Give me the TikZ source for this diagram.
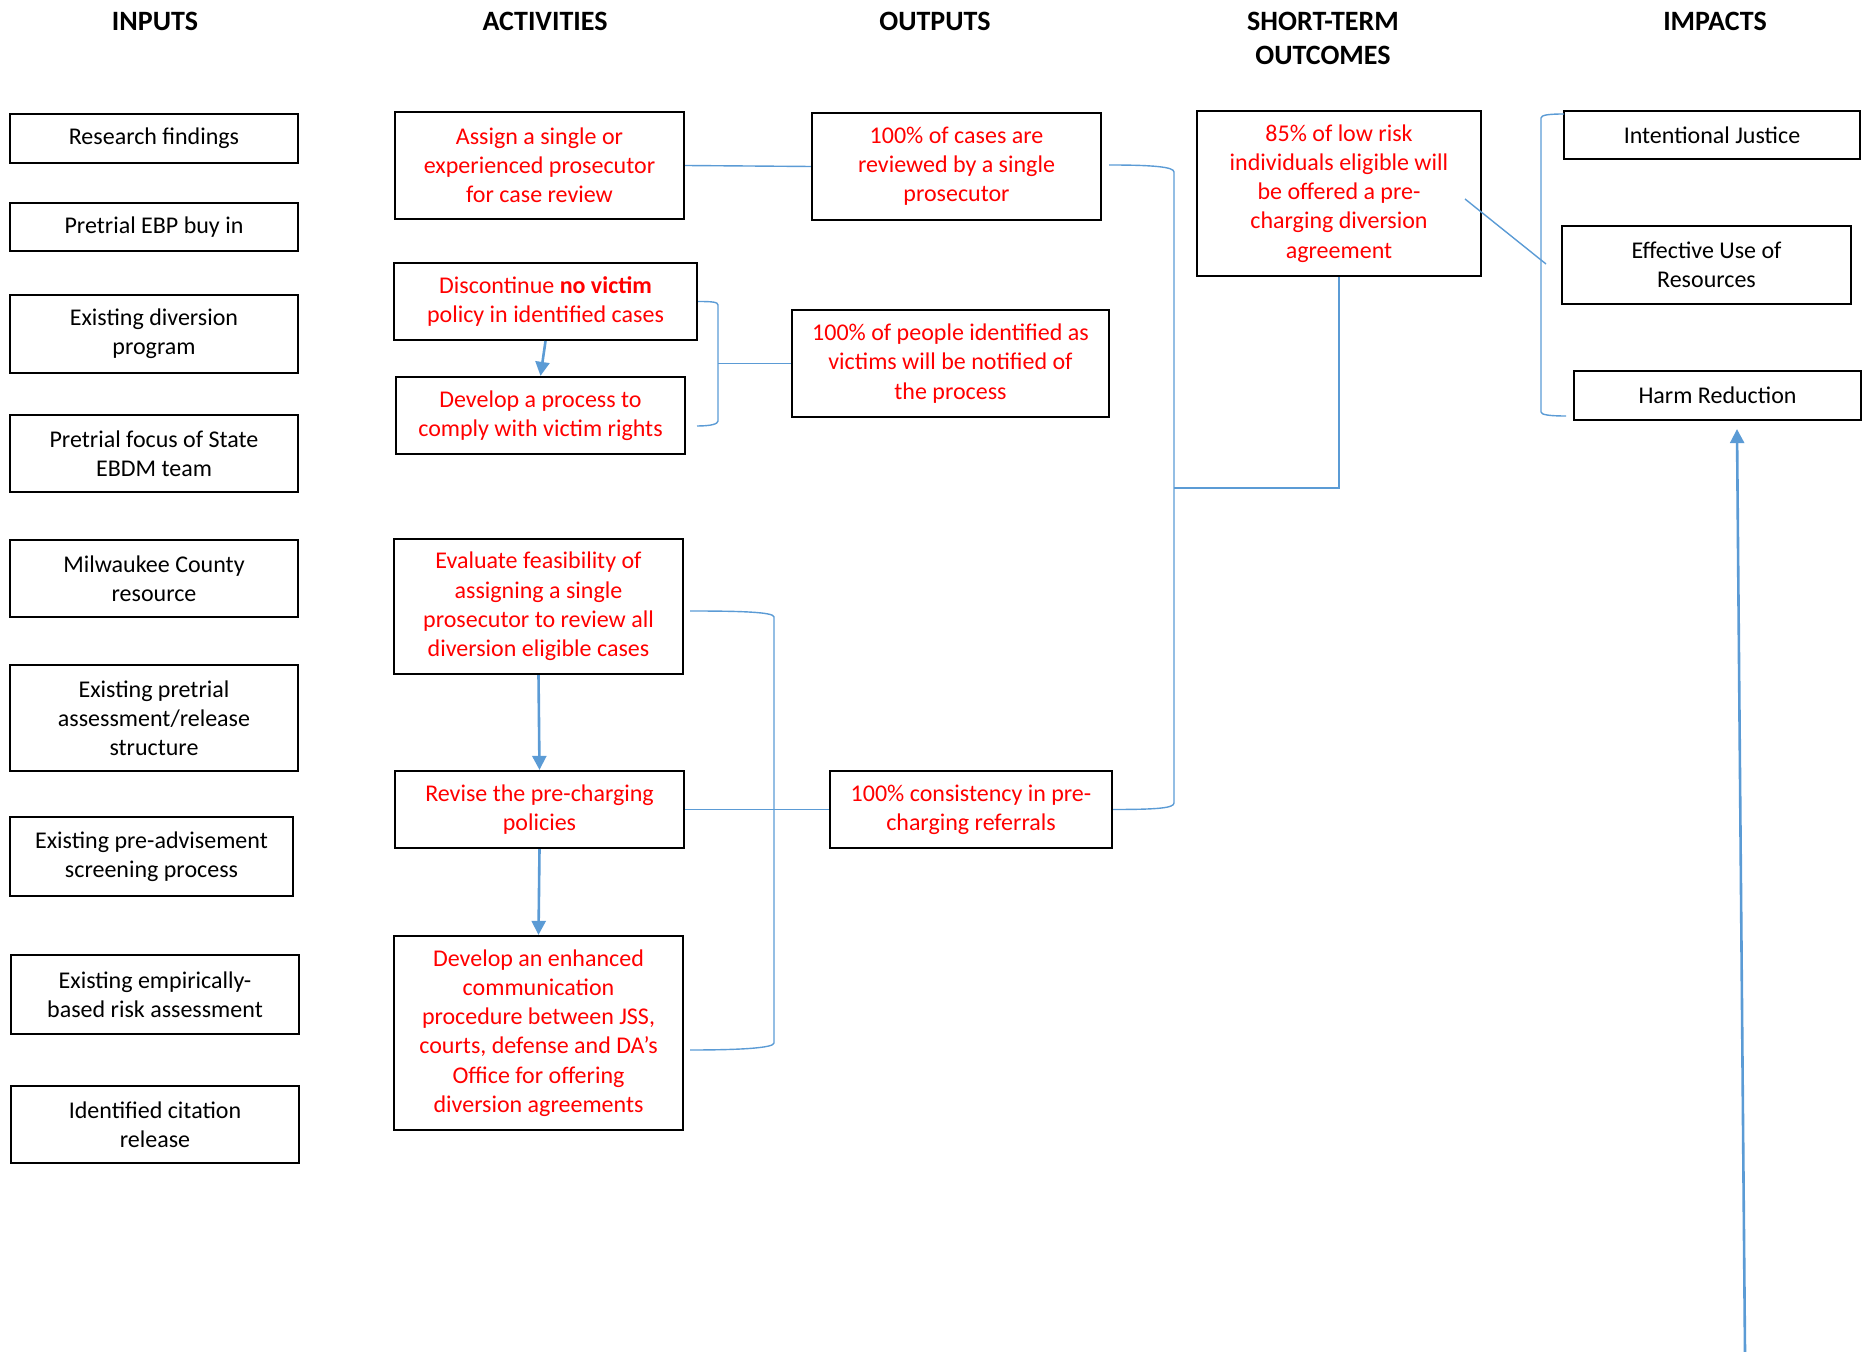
\documentclass[tikz,border=0pt]{standalone}
\usepackage{fontspec}
\setmainfont{Carlito}
\usetikzlibrary{arrows.meta}

\definecolor{linkblue}{HTML}{5B9BD5}
\definecolor{boxred}{HTML}{FF0000}

\tikzset{
  box/.style={
    draw,line width=1.1pt,align=center,inner sep=0pt,
    font=\fontsize{12}{14.6}\selectfont,
  },
  inbox/.style={box,text=black},
  redbox/.style={box,text=boxred},
  sz/.style 2 args={minimum width=#1,minimum height=#2},
  head/.style={align=center,font=\fontsize{14}{17}\selectfont\bfseries},
  link/.style={draw=linkblue,line width=0.7pt},
  flow/.style={draw=linkblue,line width=1.3pt,-{Triangle[length=7pt,width=7pt]}},
}

\begin{document}
\begin{tikzpicture}[x=0.5pt,y=-0.5pt]
    \useasboundingbox (0,0) rectangle (1865,1352);

    % column headings
    \node[head] (h1) at (155,21)    {INPUTS};
    \node[head] (h2) at (545,21)    {ACTIVITIES};
    \node[head] (h3) at (935,21)    {OUTPUTS};
    \node[head] (h4) at (1323,38.7) {SHORT-TERM\\OUTCOMES};
    \node[head] (h5) at (1715,21)   {IMPACTS};

    % inputs
    \node[inbox,sz={144pt}{24.5pt}] (in1) at (154,138.5)  {Research findings};
    \node[inbox,sz={144pt}{24pt}]   (in2) at (154,227)    {Pretrial EBP buy in};
    \node[inbox,sz={144pt}{39pt}]   (in3) at (154,334)    {Existing diversion\\program};
    \node[inbox,sz={144pt}{38.5pt}] (in4) at (154,453.5)  {Pretrial focus of State\\EBDM team};
    \node[inbox,sz={144pt}{38.5pt}] (in5) at (154,578.5)  {Milwaukee County\\resource};
    \node[inbox,sz={144pt}{53pt}]   (in6) at (154,718)    {Existing pretrial\\assessment/release\\structure};
    \node[inbox,sz={141.5pt}{39.5pt}] (in7) at (151.5,856.5) {Existing pre-advisement\\screening process};
    \node[inbox,sz={144pt}{39.5pt}] (in8) at (155,994.5)  {Existing empirically-\\based risk assessment};
    \node[inbox,sz={144pt}{38.5pt}] (in9) at (155,1124.5) {Identified citation\\release};

    % activities
    \node[redbox,sz={144.5pt}{53.5pt}] (act1) at (539.5,165.5) {Assign a single or\\experienced prosecutor\\for case review};
    \node[redbox,sz={151.5pt}{38.5pt}] (act2) at (545.5,301.5) {Discontinue \textbf{no victim}\\policy in identified cases};
    \node[redbox,sz={144.5pt}{38.5pt}] (act3) at (540.5,415.5) {Develop a process to\\comply with victim rights};
    \node[redbox,sz={144.5pt}{67.5pt}] (act4) at (538.5,606.5) {Evaluate feasibility of\\assigning a single\\prosecutor to review all\\diversion eligible cases};
    \node[redbox,sz={144.5pt}{38.5pt}] (act5) at (539.5,809.5) {Revise the pre-charging\\policies};
    \node[redbox,sz={144.5pt}{97pt}]   (act6) at (538.5,1033)  {Develop an enhanced\\communication\\procedure between JSS,\\courts, defense and DA’s\\Office for offering\\diversion agreements};

    % outputs
    \node[redbox,sz={144.5pt}{53.5pt}] (out1) at (956.5,166.5) {100\% of cases are\\reviewed by a single\\prosecutor};
    \node[redbox,sz={158.5pt}{53.5pt}] (out2) at (950.5,363.5) {100\% of people identified as\\victims will be notified of\\the process};
    \node[redbox,sz={141pt}{38.5pt}]   (out3) at (971,809.5)   {100\% consistency in pre-\\charging referrals};

    % short-term outcome
    \node[redbox,sz={142pt}{82.5pt}] (st1) at (1339,193.5) {85\% of low risk\\individuals eligible will\\be offered a pre-\\charging diversion\\agreement};

    % impacts
    \node[inbox,sz={148pt}{24pt}]     (imp1) at (1712,135)    {Intentional Justice};
    \node[inbox,sz={144.5pt}{39pt}]   (imp2) at (1706.5,265)  {Effective Use of\\Resources};
    \node[inbox,sz={143.5pt}{24.5pt}] (imp3) at (1717.5,395.5) {Harm Reduction};

    % connectors
    \draw[link] (act1.east) -- (out1.west);

    \coordinate (b1end) at (697,426);
    \coordinate (j1) at (718,363.5);
    \draw[link] (act2.east) .. controls +(14,0) and +(0,-3) .. (718,305)
      -- (718,421) .. controls +(0,3) and +(14,0) .. (b1end);
    \draw[link] (j1) -- (out2.west);

    \draw[flow] (act2.south) -- (act3.north);
    \draw[flow] (act4.south) -- (act5.north);
    \draw[flow] (act5.south) -- (act6.north);

    \coordinate (b2top) at (690,611);
    \coordinate (b2bot) at (690,1050);
    \draw[link] (b2top) .. controls +(50,0) and +(0,-5) .. (774,617)
      -- (774,1043) .. controls +(0,5) and +(50,0) .. (b2bot);
    \draw[link] (act5.east) -- (out3.west);

    \coordinate (b3top) at (1109,165);
    \coordinate (j2) at (1174,488);
    \draw[link] (b3top) .. controls +(45,0) and +(0,-5) .. (1174,172)
      -- (1174,803) .. controls +(0,5) and +(45,0) .. (out3.east);
    \draw[link] (j2) -| (st1.south);

    \coordinate (d1) at (1465,199);
    \coordinate (d2) at (1546,264);
    \draw[link] (d1) -- (d2);

    \coordinate (b4top) at (1564,114);
    \coordinate (b4bot) at (1566,416);
    \draw[link] (b4top) .. controls +(-15,0) and +(0,-3) .. (1541,118)
      -- (1541,412) .. controls +(0,3) and +(-15,0) .. (b4bot);

    \coordinate (tail) at (1745,1352);
    \draw[flow] (tail) -- ([xshift=9.75pt,yshift=-4pt]imp3.south);
\end{tikzpicture}
\end{document}
